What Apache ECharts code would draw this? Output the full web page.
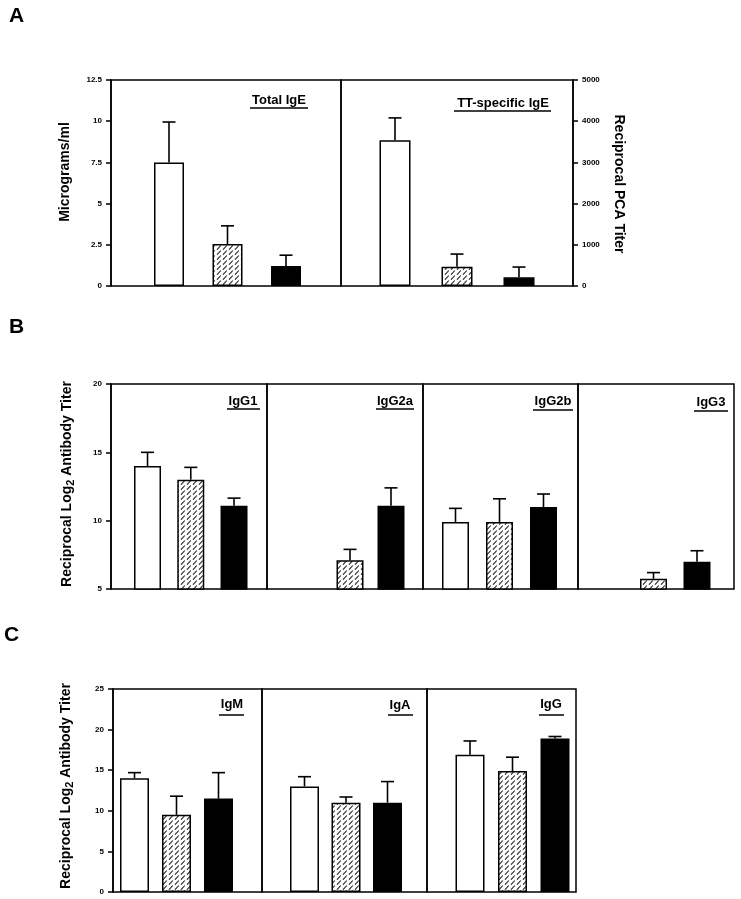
<!DOCTYPE html>
<html><head><meta charset="utf-8">
<script src="https://cdn.jsdelivr.net/npm/echarts@6/dist/echarts.min.js"></script>
<style>html,body{margin:0;padding:0;background:#fff}#c{width:741px;height:899px}</style>
</head><body><div id="c"></div>
<script>
// ---------- DATA ----------
const groups = ['Group 1', 'Group 2', 'Group 3'];

// Panel A
const ticksTotalIgE = [0, 2.5, 5, 7.5, 10, 12.5];
const totalIgE = [7.5, 2.55, 1.22];
const totalIgEErrTop = [9.95, 3.65, 1.87];
const ticksTTIgE = [0, 1000, 2000, 3000, 4000, 5000];
const ttIgE = [3540, 465, 210];
const ttIgEErrTop = [4080, 775, 460];

// Panel B
const ticksB = [5, 10, 15, 20];
const igG1 = [14.0, 13.0, 11.1];
const igG1ErrTop = [15.0, 13.9, 11.65];
const igG2a = [null, 7.1, 11.1];
const igG2aErrTop = [null, 7.9, 12.4];
const igG2b = [9.9, 9.9, 11.0];
const igG2bErrTop = [10.9, 11.6, 11.95];
const igG3 = [null, 5.75, 7.0];
const igG3ErrTop = [null, 6.2, 7.8];

// Panel C
const ticksC = [0, 5, 10, 15, 20, 25];
const igM = [14.0, 9.5, 11.5];
const igMErrTop = [14.7, 11.8, 14.7];
const igA = [13.0, 11.0, 11.0];
const igAErrTop = [14.2, 11.7, 13.6];
const igG = [16.9, 14.9, 18.9];
const igGErrTop = [18.6, 16.6, 19.15];

// ---------- STYLE / LAYOUT ----------
const FONT = "'Liberation Sans', Arial, Helvetica, sans-serif";
const hatch = document.createElement('canvas');
hatch.width = 6; hatch.height = 5;
(function () {
  const g = hatch.getContext('2d');
  g.fillStyle = '#fff'; g.fillRect(0, 0, 6, 5);
  g.strokeStyle = '#222'; g.lineWidth = 1.1;
  g.beginPath(); g.moveTo(1, 4.7); g.lineTo(4.8, 0.5); g.stroke();
})();
const barStyles = [
  { color: '#fff', borderColor: '#000', borderWidth: 1.5 },
  { color: { image: hatch, repeat: 'repeat' }, borderColor: '#000', borderWidth: 1.5 },
  { color: '#000', borderColor: '#000', borderWidth: 1.5 }
];

const panels = [
  { vals: totalIgE, errs: totalIgEErrTop, ticks: ticksTotalIgE, frame: [111, 80, 341, 286], inner: [139.75, 175.5], bw: 30, axis: 'left', title: 'Total IgE', tc: [279, 100], ul: [250, 308, 108] },
  { vals: ttIgE, errs: ttIgEErrTop, ticks: ticksTTIgE, frame: [341, 80, 573, 286], inner: [364, 186], bw: 31, axis: 'right', title: 'TT-specific IgE', tc: [503, 103], ul: [454, 551, 111] },
  { vals: igG1, errs: igG1ErrTop, ticks: ticksB, frame: [111, 384, 267, 589], inner: [125.9, 129.75], bw: 27, axis: 'left', title: 'IgG1', tc: [243, 401], ul: [227, 260, 409] },
  { vals: igG2a, errs: igG2aErrTop, ticks: ticksB, frame: [267, 384, 423, 589], inner: [288.5, 123], bw: 27, axis: null, title: 'IgG2a', tc: [395, 401], ul: [376, 414, 409] },
  { vals: igG2b, errs: igG2bErrTop, ticks: ticksB, frame: [423, 384, 578, 589], inner: [433.5, 132], bw: 27, axis: null, title: 'IgG2b', tc: [553, 401], ul: [533, 573, 410] },
  { vals: igG3, errs: igG3ErrTop, ticks: ticksB, frame: [578, 384, 734, 589], inner: [588.25, 130.5], bw: 27, axis: null, title: 'IgG3', tc: [711, 402], ul: [694, 728, 411] },
  { vals: igM, errs: igMErrTop, ticks: ticksC, frame: [113, 689, 262, 892], inner: [113.5, 126], bw: 29, axis: 'left', title: 'IgM', tc: [232, 704], ul: [219, 244, 715] },
  { vals: igA, errs: igAErrTop, ticks: ticksC, frame: [262, 689, 427, 892], inner: [283.75, 124.5], bw: 29, axis: null, title: 'IgA', tc: [400, 705], ul: [388, 413, 715] },
  { vals: igG, errs: igGErrTop, ticks: ticksC, frame: [427, 689, 576, 892], inner: [448.75, 127.5], bw: 29, axis: null, title: 'IgG', tc: [551, 704], ul: [539, 564, 715] }
];

const N = panels.length;
const grid = [], xAxis = [], yAxis = [], series = [], graphic = [];

panels.forEach((p, i) => {
  const [l, t, r, b] = p.frame;
  const ymin = p.ticks[0], ymax = p.ticks[p.ticks.length - 1], step = p.ticks[1] - p.ticks[0];
  grid.push({ left: l, top: t, width: r - l, height: b - t, show: true, borderColor: '#000', borderWidth: 1.5, backgroundColor: 'transparent' });
  xAxis.push({ gridIndex: i, type: 'category', data: groups, show: false });
  yAxis.push({
    gridIndex: i, type: 'value', min: ymin, max: ymax, interval: step,
    show: !!p.axis, position: p.axis === 'right' ? 'right' : 'left',
    axisLine: { show: true, lineStyle: { color: '#000', width: 1.5 } },
    axisTick: { show: true, length: 5, lineStyle: { color: '#000', width: 1.5 } },
    axisLabel: { fontSize: 8, fontWeight: 'bold', color: '#000', fontFamily: FONT, margin: 9,
      formatter: function (v) { return String(v); } },
    splitLine: { show: false }
  });
});
panels.forEach((p, i) => {
  const [l, t, r, b] = p.frame;
  const ymin = p.ticks[0], ymax = p.ticks[p.ticks.length - 1], step = p.ticks[1] - p.ticks[0];
  const gi = N + i;
  grid.push({ left: p.inner[0], top: t, width: p.inner[1], height: b - t, show: false });
  xAxis.push({ gridIndex: gi, type: 'category', data: groups, show: false });
  yAxis.push({ gridIndex: gi, type: 'value', min: ymin, max: ymax, interval: step, show: false, splitLine: { show: false } });
  series.push({
    type: 'bar', xAxisIndex: gi, yAxisIndex: gi, barWidth: p.bw, clip: true, silent: true,
    data: p.vals.map((v, k) => v == null ? '-' : { value: v, itemStyle: barStyles[k] })
  });
  const errData = [];
  p.vals.forEach((v, k) => { if (v != null) errData.push([k, v, p.errs[k]]); });
  series.push({
    type: 'custom', xAxisIndex: gi, yAxisIndex: gi, silent: true, z: 5,
    data: errData,
    renderItem: function (params, api) {
      const x = api.value(0);
      const p0 = api.coord([x, api.value(1)]);
      const p1 = api.coord([x, api.value(2)]);
      const st = { stroke: '#000', lineWidth: 1.6 };
      return {
        type: 'group', children: [
          { type: 'line', shape: { x1: p0[0], y1: p0[1], x2: p1[0], y2: p1[1] }, style: st },
          { type: 'line', shape: { x1: p1[0] - 6.5, y1: p1[1], x2: p1[0] + 6.5, y2: p1[1] }, style: st }
        ]
      };
    }
  });
  graphic.push({ type: 'text', x: p.tc[0], y: p.tc[1], silent: true,
    style: { text: p.title, font: 'bold 13px ' + FONT, fill: '#000', align: 'center', verticalAlign: 'middle', textAlign: 'center', textVerticalAlign: 'middle' } });
  graphic.push({ type: 'line', silent: true, shape: { x1: p.ul[0], y1: p.ul[2], x2: p.ul[1], y2: p.ul[2] }, style: { stroke: '#000', lineWidth: 1.5 } });
});

function txt(x, y, text, font, rot, extra) {
  const st = Object.assign({ text: text, font: font, fill: '#000', align: 'center', verticalAlign: 'middle', textAlign: 'center', textVerticalAlign: 'middle' }, extra || {});
  return { type: 'text', x: x, y: y, rotation: rot || 0, silent: true, style: st };
}
graphic.push(txt(9, 16, 'A', 'bold 21px ' + FONT, 0, { align: 'left', textAlign: 'left' }));
graphic.push(txt(9, 327, 'B', 'bold 21px ' + FONT, 0, { align: 'left', textAlign: 'left' }));
graphic.push(txt(4, 635, 'C', 'bold 21px ' + FONT, 0, { align: 'left', textAlign: 'left' }));
graphic.push(txt(65, 172, 'Micrograms/ml', 'bold 14px ' + FONT, Math.PI / 2));
graphic.push(txt(619, 184, 'Reciprocal PCA Titer', 'bold 14px ' + FONT, -Math.PI / 2));
const richLog = {
  n: { font: 'bold 14px ' + FONT, fill: '#000', verticalAlign: 'top', lineHeight: 16 },
  s: { font: 'bold 11px ' + FONT, fill: '#000', verticalAlign: 'bottom', lineHeight: 11, padding: [8, 0, 0, 0] }
};
const logTitle = '{n|Reciprocal Log}{s|2}{n| Antibody Titer}';
graphic.push(txt(68, 484, logTitle, 'bold 14px ' + FONT, Math.PI / 2, { rich: richLog }));
graphic.push(txt(67, 786, logTitle, 'bold 14px ' + FONT, Math.PI / 2, { rich: richLog }));

const chart = echarts.init(document.getElementById('c'), null, { renderer: 'canvas' });
chart.setOption({
  animation: false,
  backgroundColor: '#fff',
  textStyle: { fontFamily: FONT },
  grid: grid, xAxis: xAxis, yAxis: yAxis, series: series,
  graphic: graphic
});
</script>
</body></html>
